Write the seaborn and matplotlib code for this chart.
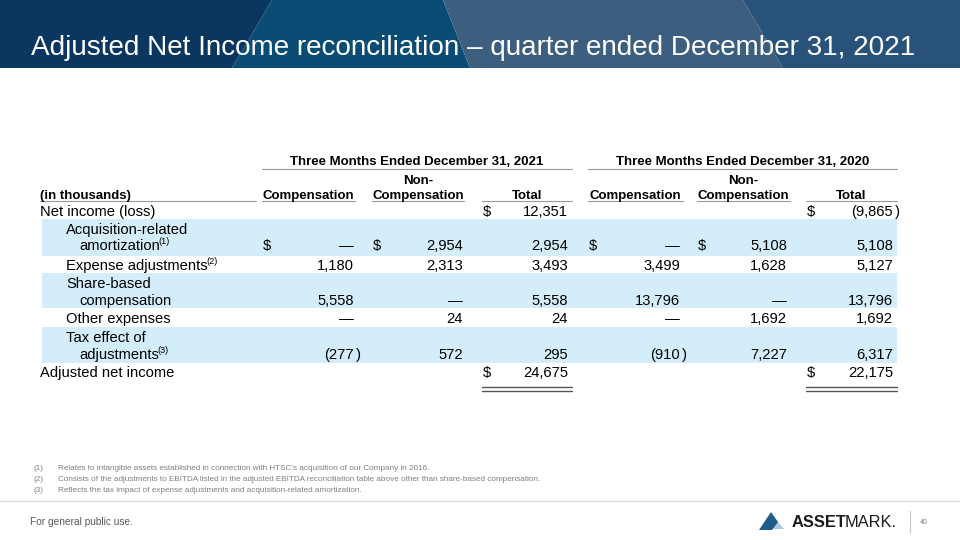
import matplotlib
matplotlib.use("Agg")
import matplotlib.pyplot as plt
from matplotlib.patches import Polygon
import seaborn as sns

# ---------------- data ----------------
title = "Adjusted Net Income reconciliation \u2013 quarter ended December 31, 2021"
period_labels = ["Three Months Ended December 31, 2021", "Three Months Ended December 31, 2020"]
column_labels = [("", "Compensation"), ("Non-", "Compensation"), ("", "Total")]
row_labels = [
    ["Net income (loss)"],
    ["Acquisition-related", "amortization"],
    ["Expense adjustments"],
    ["Share-based", "compensation"],
    ["Other expenses"],
    ["Tax effect of", "adjustments"],
    ["Adjusted net income"],
]
row_notes = [None, "(1)", "(2)", None, None, "(3)", None]
comp_2021 = [None, 0, 1180, 5558, 0, -277, None]
noncomp_2021 = [None, 2954, 2313, 0, 24, 572, None]
total_2021 = [12351, 2954, 3493, 5558, 24, 295, 24675]
comp_2020 = [None, 0, 3499, 13796, 0, -910, None]
noncomp_2020 = [None, 5108, 1628, 0, 1692, 7227, None]
total_2020 = [-9865, 5108, 5127, 13796, 1692, 6317, 22175]
dollar_comp = [False, True, False, False, False, False, False]
dollar_total = [True, False, False, False, False, False, True]
footnotes = [
    ("(1)", "Relates to intangible assets established in connection with HTSC\u2019s acquisition of our Company in 2016."),
    ("(2)", "Consists of the adjustments to EBITDA listed in the adjusted EBITDA reconciliation table above other than share-based compensation."),
    ("(3)", "Reflects the tax impact of expense adjustments and acquisition-related amortization."),
]
footer_text = "For general public use."
page_number = "40"

# ---------------- style ----------------
sns.set_theme(style="white")
plt.rcParams["font.family"] = ["Liberation Sans", "DejaVu Sans"]

fig = plt.figure(figsize=(9.6, 5.4), dpi=100)
ax = fig.add_axes([0, 0, 1, 1])
ax.set_xlim(0, 960)
ax.set_ylim(540, 0)
ax.axis("off")
fig.canvas.draw()
renderer = fig.canvas.get_renderer()

PX = 100 / 72.0


def T(x, yc, s, size, ha="left", color="#000000", weight="normal", **kw):
    base = yc + 0.36 * size * PX
    return ax.text(x, base, s, fontsize=size, ha=ha, va="baseline", color=color,
                   fontweight=weight, **kw)


def right_edge(t):
    bb = t.get_window_extent(renderer=renderer)
    return ax.transData.inverted().transform((bb.x1, bb.y0))[0]


# ---------------- header band ----------------
bands = [
    ([(0, 0), (272, 0), (232, 68), (0, 68)], "#0a365f"),
    ([(272, 0), (443, 0), (470, 68), (232, 68)], "#0b4c74"),
    ([(443, 0), (743, 0), (783, 68), (470, 68)], "#3c5e7f"),
    ([(743, 0), (960, 0), (960, 68), (783, 68)], "#28527a"),
]
for pts, c in bands:
    ax.add_patch(Polygon(pts, closed=True, facecolor=c, edgecolor="none"))
T(31, 45, title, 20.1, color="white")

# ---------------- table layout ----------------
BODY = 10.6
HEAD = 9.5
# (dollar x, number right x, underline x0, underline x1)
cols = [(263, 354, 262, 355), (373, 463, 372, 464), (483, 568, 482, 572),
        (589, 680, 588, 683), (698, 787, 697, 790), (807, 893, 806, 897)]
series = [comp_2021, noncomp_2021, total_2021, comp_2020, noncomp_2020, total_2020]
dollars = [dollar_comp, dollar_comp, dollar_total, dollar_comp, dollar_comp, dollar_total]
row_lines = [[211], [229, 245], [265], [283, 300], [318], [337, 354], [372]]
shade = {1: (219, 256), 3: (273, 308), 5: (327, 363)}

for i, (y0, y1) in shade.items():
    ax.add_patch(plt.Rectangle((42, y0), 855, y1 - y0, facecolor="#d3eefa", edgecolor="none"))

# period headers
for k, lab in enumerate(period_labels):
    x0 = cols[3 * k][2]
    x1 = cols[3 * k + 2][3]
    T((x0 + x1) / 2, 160, lab, HEAD, ha="center", weight="bold")
    ax.plot([x0, x1], [169, 169], color="#9a9a9a", lw=0.8)

# column headers
T(40, 194, "(in thousands)", HEAD, weight="bold")
ax.plot([40, 256], [201, 201], color="#9a9a9a", lw=0.8)
for j, c in enumerate(cols):
    top, bot = column_labels[j % 3]
    cx = (c[2] + c[3]) / 2
    if top:
        T(cx, 179, top, HEAD, ha="center", weight="bold")
    T(cx, 194, bot, HEAD, ha="center", weight="bold")
    ax.plot([c[2], c[3]], [201, 201], color="#9a9a9a", lw=0.8)

# row labels
for i, lines in enumerate(row_labels):
    ys = row_lines[i]
    indent = 0 if i in (0, 6) else 1
    for li, s in enumerate(lines):
        x = 40 if indent == 0 else (66 if li == 0 else 79)
        t = T(x, ys[li], s, BODY)
        if row_notes[i] and li == len(lines) - 1:
            xr = right_edge(t)
            T(xr - 1.5, ys[li] - 4, row_notes[i], 6.6)


def fmt(v):
    if v == 0:
        return "\u2014"
    if v < 0:
        return "({:,}".format(-v)
    return "{:,}".format(v)


for j, c in enumerate(cols):
    vals = series[j]
    for i, v in enumerate(vals):
        if v is None:
            continue
        y = row_lines[i][-1]
        T(c[1], y, fmt(v), BODY, ha="right")
        if v < 0:
            T(c[1] + 1.5, y, ")", BODY, ha="left")
        if dollars[j][i]:
            T(c[0], y, "$", BODY)

# double underline under totals
for c in (cols[2], cols[5]):
    for yy in (387, 391):
        ax.plot([c[2], c[3]], [yy, yy], color="#555555", lw=1.0)

# ---------------- footnotes & footer ----------------
for k, (num, txt) in enumerate(footnotes):
    y = 467 + 11 * k
    T(33, y, num, 5.9, color="#808080")
    T(58, y, txt, 5.9, color="#808080")

ax.plot([0, 960], [501, 501], color="#dcdcdc", lw=1.0)
T(30, 521, footer_text, 7.3, color="#595959")

# logo
ax.add_patch(Polygon([(770, 513), (784, 529), (774, 529), (768, 521)], closed=True,
                     facecolor="#a7c6e2", edgecolor="none"))
ax.add_patch(Polygon([(759, 530), (771, 512), (778, 522), (772, 530)], closed=True,
                     facecolor="#1f5c8b", edgecolor="none"))
ta = T(792, 521, "ASSET", 11.8, weight="bold", color="#1a1a1a")
T(right_edge(ta) - 2.0, 521, "MARK.", 11.8, color="#1a1a1a")
ax.plot([910, 910], [511, 533], color="#c8c8c8", lw=0.8)
T(920, 521, page_number, 5, color="#808080")

fig.savefig("out.png", dpi=100)
